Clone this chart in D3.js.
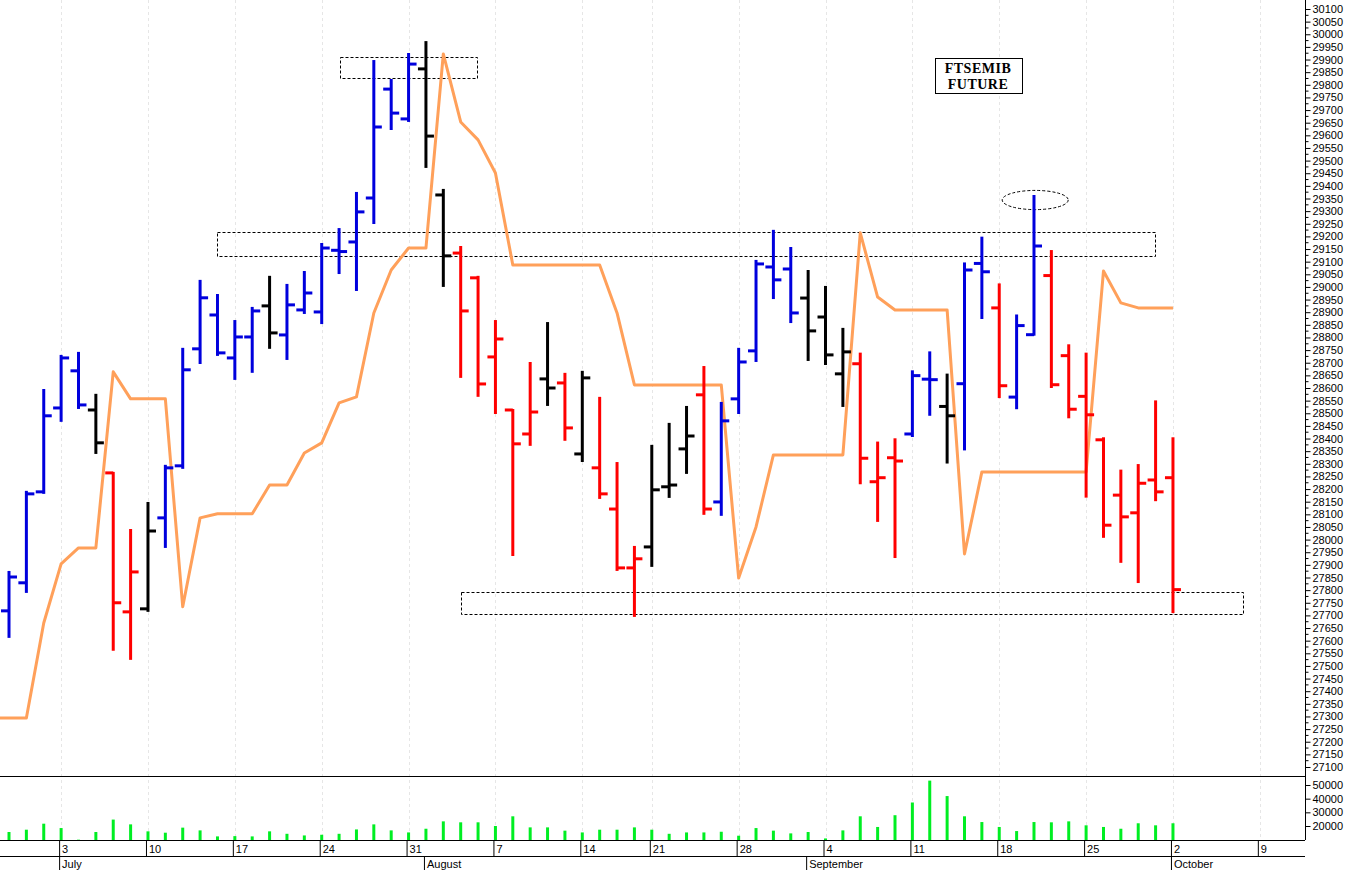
<!DOCTYPE html>
<html>
<head>
<meta charset="utf-8">
<script src="https://cdn.jsdelivr.net/npm/d3@7"></script>
<style>
  body { margin: 0; background: #fff; }
  text { font-family: "Liberation Sans", Arial, sans-serif; }
  text.title { font-family: "Liberation Serif", serif; }
</style>
</head>
<body>
<svg id="chart" width="1352" height="870"></svg>
<script>
// OHLC values, one per trading day (28 Jun - 2 Oct)
var opens  = [27718,27829,28189,28521,28668,28513,28264,27714,27726,28086,28292,28755,28889,28719,28802,28925,28810,28909,28901,29145,29178,29352,29783,29665,29863,29364,
              29134,29036,28723,28513,28418,28636,28620,28339,28284,28121,27888,27971,28209,28359,28573,28149,28557,28747,29079,29071,28956,28881,28656,
              28696,28229,28324,28418,28635,28527,28617,29093,28917,28564,28811,29045,28728,28567,28395,28176,28106,28236,28245];
var highs  = [27872,28189,28592,28727,28739,28573,28264,28038,28145,28292,28755,29024,28968,28865,28917,29040,29008,29059,29170,29229,29372,29894,29819,29922,29969,29384,
              29158,29040,28865,28513,28699,28857,28656,28664,28561,28303,27971,28371,28458,28525,28683,28541,28755,29103,29222,29154,29063,29000,28834,
              28736,28384,28397,28666,28741,28653,29093,29195,29010,28887,29360,29142,28769,28736,28401,28273,28295,28547,28401];
var lows   = [27615,27793,28185,28470,28521,28343,27564,27528,27718,27971,28284,28699,28731,28636,28664,28759,28715,28897,28857,29055,28988,29253,29625,29657,29475,29004,
              28644,28569,28501,27939,28375,28533,28395,28311,28165,27880,27698,27896,28169,28264,28102,28098,28501,28707,28956,28861,28711,28695,28529,
              28223,28074,27931,28410,28494,28305,28357,28877,28564,28520,28811,28604,28484,28170,28011,27912,27832,28156,27713];
var closes = [27852,28181,28490,28719,28533,28383,27750,27872,28034,28284,28672,28957,28739,28802,28905,28818,28929,28976,29154,29140,29297,29633,29688,29882,29597,29123,
              28905,28616,28794,28379,28505,28600,28442,28640,28181,27888,27924,28197,28216,28410,28121,28470,28703,29091,29028,28897,28826,28731,28743,
              28322,28245,28311,28649,28633,28490,29067,29060,28609,28847,29162,28613,28516,28494,28057,28090,28223,28189,27802];
// bar colour: B blue, R red, K black
var barColors = "BBBBBKRRKBBBBBBKBBBBBBBBKKRRRRRKRKRRRKKKRBBBBBKKKRRRBBKBBRBBRRRRRRRR".split("");
// orange indicator line
var signal = [27294,27294,27670,27904,27967,27967,28664,28557,28557,28557,27734,28086,28102,28102,28102,28216,28216,28343,28383,28541,28565,28897,29067,29154,29154,29922,
              29653,29582,29451,29087,29087,29087,29087,29087,29087,28897,28612,28612,28612,28612,28612,28612,27848,28050,28335,28335,28335,28335,28335,
              29214,28960,28909,28909,28909,28909,27943,28268,28268,28268,28268,28268,28268,28268,29063,28937,28917,28917,28917];
var volumes = [15600,17300,21700,18500,10000,15600,24700,21200,16100,15100,18800,16800,12400,12600,12400,16100,14300,13100,13600,14300,17500,21200,16800,15300,18000,23400,
               22700,22700,20000,27100,19000,19000,16600,15300,17300,17300,19000,17300,14300,15300,15300,15800,12900,18500,16600,14600,15600,10900,16800,
               27100,19300,27900,37200,53200,41900,27100,22900,19300,16300,22900,22700,23400,20500,19300,18000,22000,20500,22000];

// date axis
var weekIdx = [3,8,13,18,23,28,33,37,42,47,52,57,62,67,72];
var weekLabels = ["3","10","17","24","31","7","14","21","28","4","11","18","25","2","9"];
var monthIdx = [3,24,46,67];
var monthLabels = ["July","August","September","October"];
var priceTicks = d3.range(27100, 30101, 50);
var volTicks = [20000,30000,40000,50000];

// annotations: [i0, i1, p0, p1]
var boxes = [[19.06,26.94,29827,29910],[11.97,65.98,29123,29218],[26.02,71.04,27706,27793]];
var ellipse = {i:59.07, p:29344, rx:1.9, ry:38};

var svg = d3.select("#chart");
var plotRight = 1305;
var x = d3.scaleLinear().domain([-0.518, 74.6]).range([0, plotRight]);
var y = d3.scaleLinear().domain([27100, 30100]).range([767, 9]);
var yv = d3.scaleLinear().domain([9760, 56580]).range([840, 776]);

var colorMap = {B:"#0000dd", R:"#ff0000", K:"#000000"};

// vertical weekly gridlines
svg.append("g").selectAll("line").data(weekIdx).join("line")
  .attr("x1", d => Math.round(x(d)) + 0.5).attr("x2", d => Math.round(x(d)) + 0.5)
  .attr("y1", 0).attr("y2", 840)
  .attr("stroke", "#e6e6e6").attr("stroke-dasharray", "3,3");

// annotation boxes
svg.append("g").selectAll("rect").data(boxes).join("rect")
  .attr("x", d => Math.round(x(d[0])) + 0.5).attr("width", d => Math.round(x(d[1]) - x(d[0])))
  .attr("y", d => Math.round(y(d[3])) + 0.5).attr("height", d => Math.round(y(d[2]) - y(d[3])))
  .attr("fill", "none").attr("stroke", "#000").attr("stroke-width", 1).attr("stroke-dasharray", "3,2");
svg.append("ellipse")
  .attr("cx", x(ellipse.i)).attr("cy", y(ellipse.p))
  .attr("rx", x(ellipse.i + ellipse.rx) - x(ellipse.i)).attr("ry", y(ellipse.p) - y(ellipse.p + ellipse.ry))
  .attr("fill", "none").attr("stroke", "#000").attr("stroke-width", 1).attr("stroke-dasharray", "3,2");

// orange line (flat from left edge)
svg.append("path").datum([signal[0]].concat(signal))
  .attr("fill", "none").attr("stroke", "#ffa05a").attr("stroke-width", 3).attr("stroke-linejoin", "round")
  .attr("d", d3.line().x((d, i) => i === 0 ? 0 : x(i - 1)).y(d => y(d)));

// OHLC bars
var bars = svg.append("g").selectAll("g").data(opens).join("g")
  .attr("stroke", (d, i) => colorMap[barColors[i]]).attr("stroke-width", 3);
bars.append("line")
  .attr("x1", (d, i) => x(i)).attr("x2", (d, i) => x(i))
  .attr("y1", (d, i) => y(highs[i]) - 1).attr("y2", (d, i) => y(lows[i]) + 1);
bars.append("line")
  .attr("x1", (d, i) => x(i) - 8).attr("x2", (d, i) => x(i))
  .attr("y1", (d, i) => y(opens[i])).attr("y2", (d, i) => y(opens[i]));
bars.append("line")
  .attr("x1", (d, i) => x(i)).attr("x2", (d, i) => x(i) + 8)
  .attr("y1", (d, i) => y(closes[i])).attr("y2", (d, i) => y(closes[i]));

// volume bars
svg.append("g").selectAll("line").data(volumes).join("line")
  .attr("x1", (d, i) => x(i)).attr("x2", (d, i) => x(i))
  .attr("y1", 840).attr("y2", d => yv(d))
  .attr("stroke", "#00ee22").attr("stroke-width", 3);

// frame lines
svg.append("line").attr("x1", 0).attr("x2", plotRight).attr("y1", 776.5).attr("y2", 776.5).attr("stroke", "#000");
svg.append("line").attr("x1", 0).attr("x2", plotRight).attr("y1", 840.5).attr("y2", 840.5).attr("stroke", "#000");
svg.append("line").attr("x1", 0).attr("x2", plotRight).attr("y1", 856.5).attr("y2", 856.5).attr("stroke", "#000");

// right price axis
var pAxis = d3.axisRight(y).tickValues(priceTicks).tickSize(5).tickFormat(d3.format("d"));
var pg = svg.append("g").attr("transform", "translate(" + (plotRight + 0.5) + ",0)").call(pAxis);
pg.select(".domain").attr("d", "M0,0V776");
pg.selectAll("text").attr("font-size", 11).attr("x", 7);
svg.append("g").attr("transform", "translate(" + (plotRight + 0.5) + ",0)")
  .selectAll("line").data(priceTicks.slice(0, -1)).join("line")
  .attr("x1", 0).attr("x2", 3).attr("y1", d => y(d + 25)).attr("y2", d => y(d + 25)).attr("stroke", "#000");

// volume axis
var vAxis = d3.axisRight(yv).tickValues(volTicks).tickSize(5).tickFormat(d3.format("d"));
var vg = svg.append("g").attr("transform", "translate(" + (plotRight + 0.5) + ",0)").call(vAxis);
vg.select(".domain").attr("d", "M0,776V840");
vg.selectAll("text").attr("font-size", 11).attr("x", 7);

// date axis
var dg = svg.append("g");
dg.selectAll("line").data(weekIdx).join("line")
  .attr("x1", d => x(d) - 1.5).attr("x2", d => x(d) - 1.5).attr("y1", 841).attr("y2", 856).attr("stroke", "#000");
dg.selectAll("text").data(weekLabels).join("text")
  .attr("x", (d, i) => x(weekIdx[i]) + 1).attr("y", 853).attr("font-size", 11).text(d => d);
var mg = svg.append("g");
mg.selectAll("line").data(monthIdx).join("line")
  .attr("x1", d => x(d) - 1.5).attr("x2", d => x(d) - 1.5).attr("y1", 857).attr("y2", 870).attr("stroke", "#000");
mg.selectAll("text").data(monthLabels).join("text")
  .attr("x", (d, i) => x(monthIdx[i]) + 1).attr("y", 868).attr("font-size", 11).text(d => d);

// title box
svg.append("rect").attr("x", 935.5).attr("y", 58.5).attr("width", 87).attr("height", 35)
  .attr("fill", "#fff").attr("stroke", "#000");
svg.append("text").attr("class", "title").attr("x", 978).attr("y", 73).attr("text-anchor", "middle")
  .attr("font-size", 14).attr("font-weight", "bold").attr("letter-spacing", 0.5).text("FTSEMIB");
svg.append("text").attr("class", "title").attr("x", 978).attr("y", 89).attr("text-anchor", "middle")
  .attr("font-size", 14).attr("font-weight", "bold").attr("letter-spacing", 0.5).text("FUTURE");
</script>
</body>
</html>
